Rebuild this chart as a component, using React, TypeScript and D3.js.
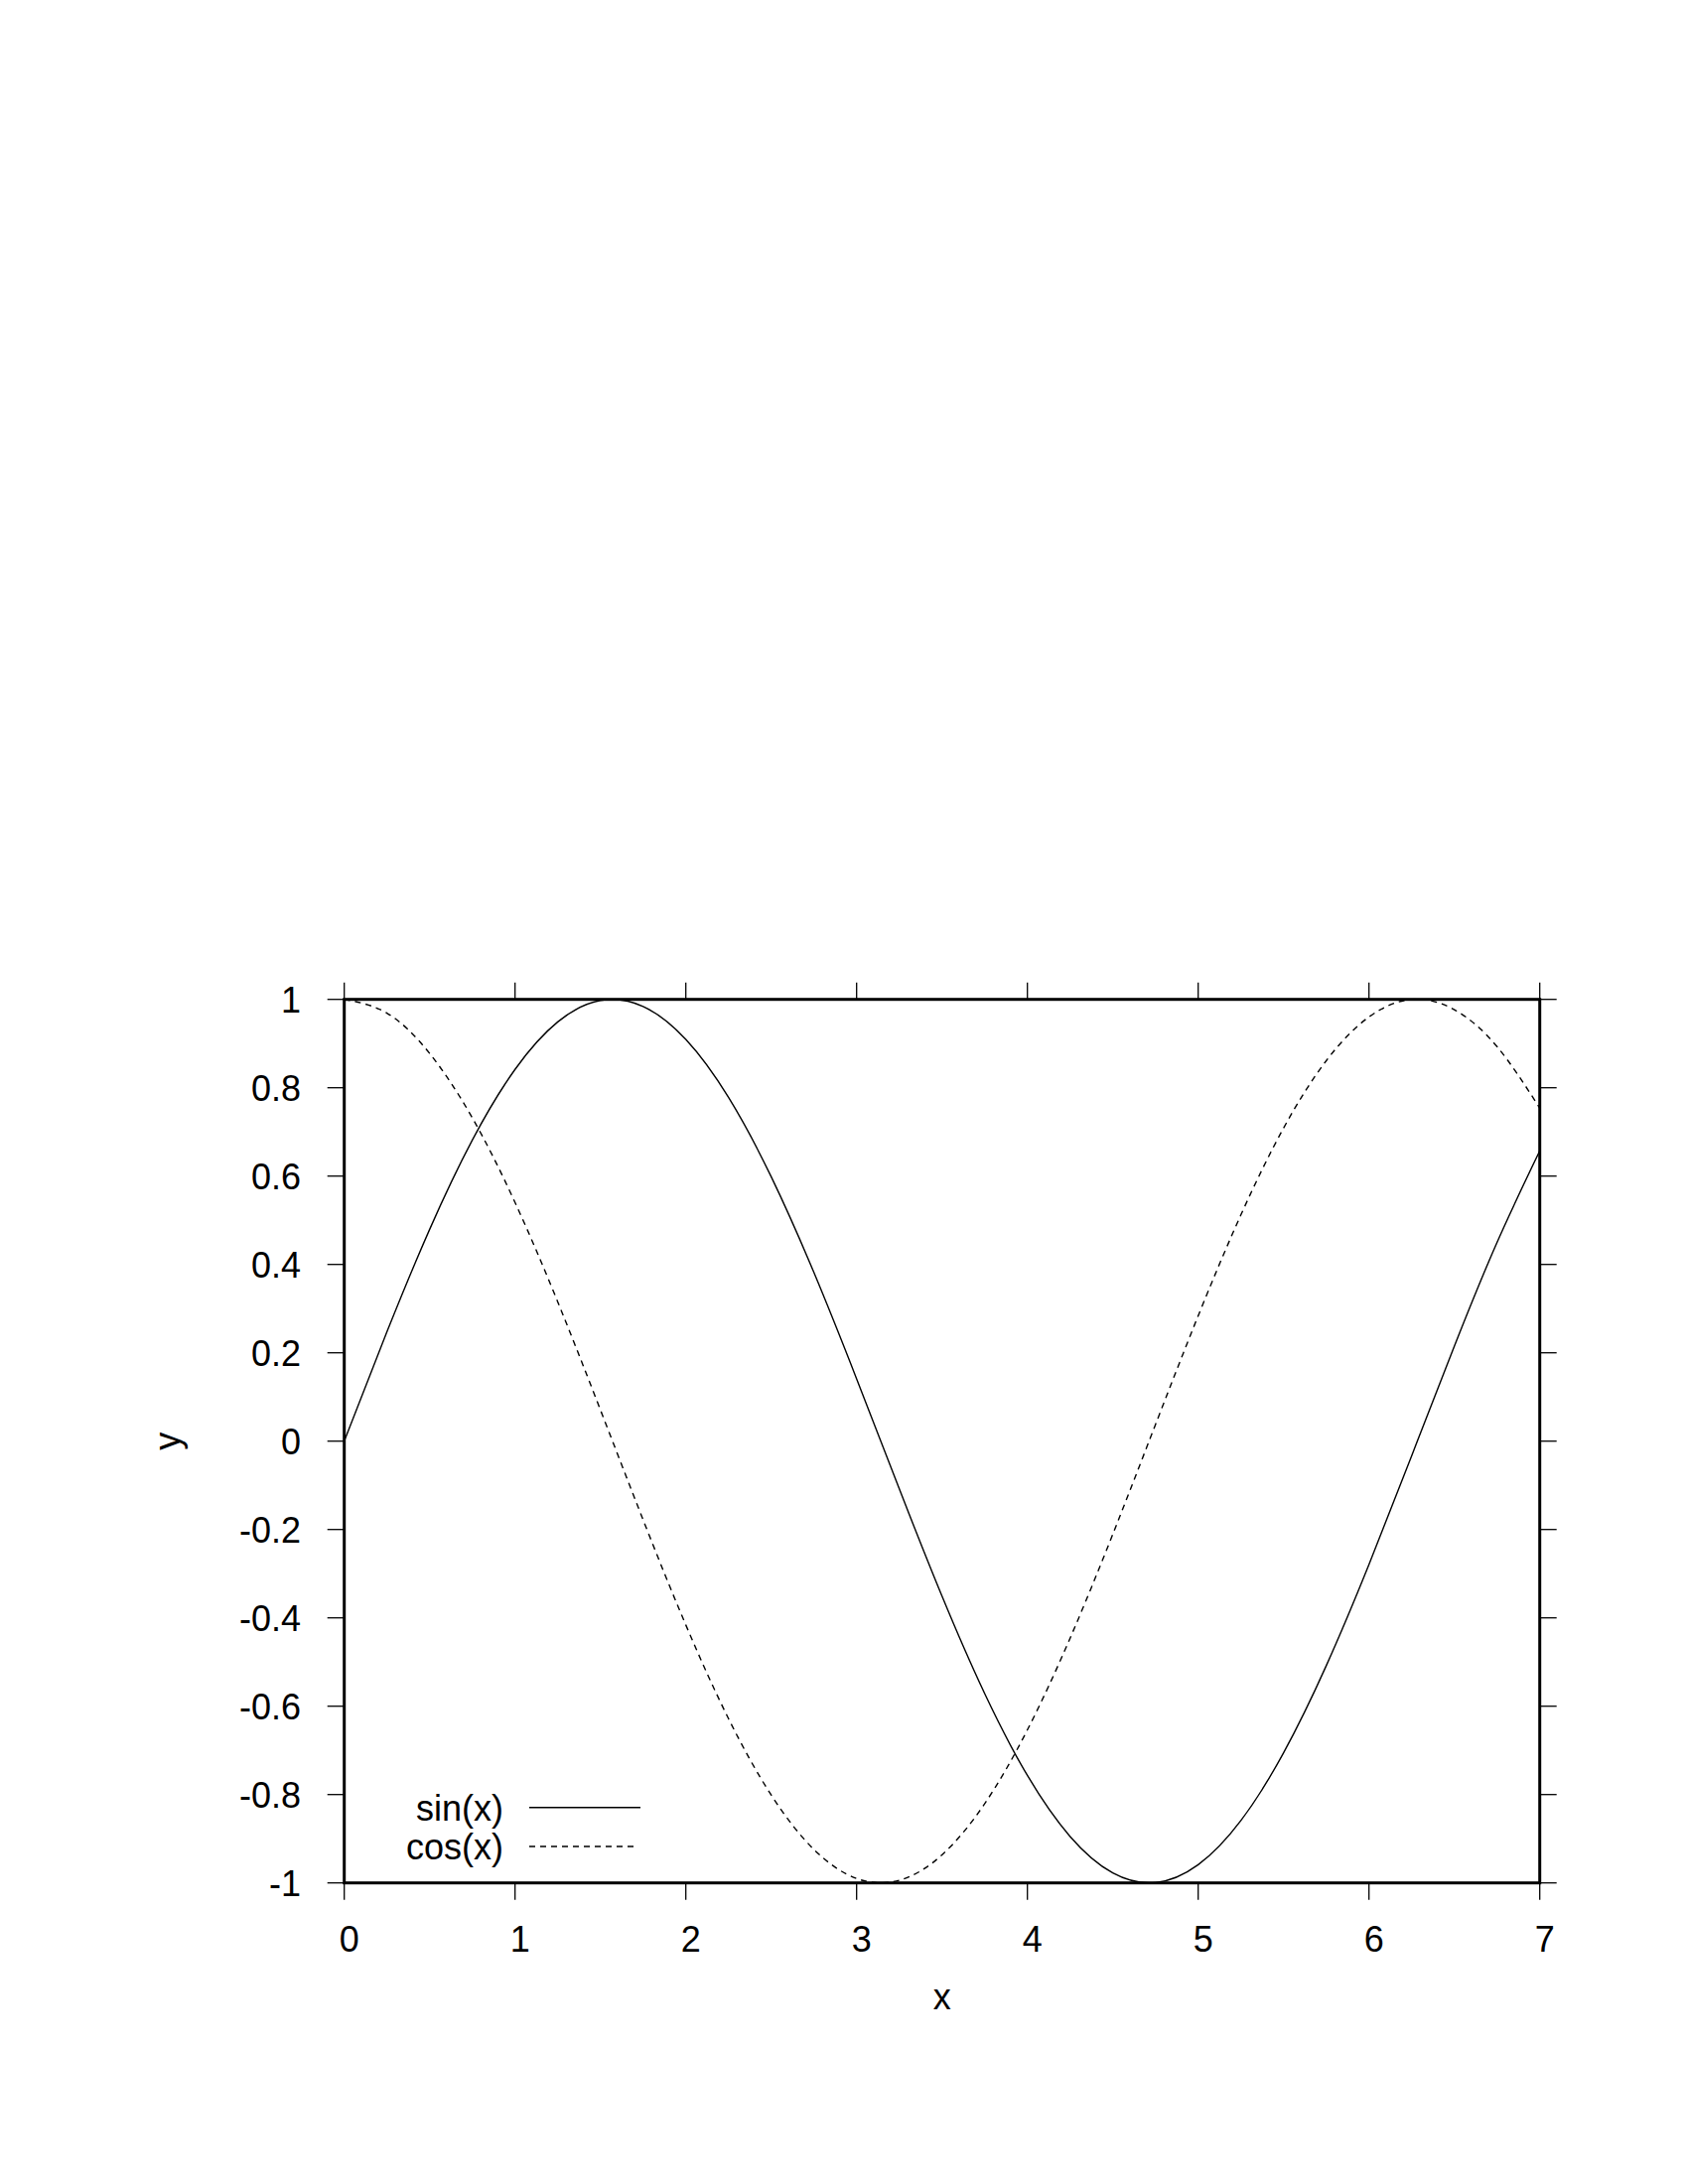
import React from "react";
import * as d3 from "d3";

const xs = [0, 0.25, 0.5, 0.75, 1, 1.25, 1.5, 1.75, 2, 2.25, 2.5, 2.75, 3, 3.25, 3.5, 3.75, 4, 4.25, 4.5, 4.75, 5, 5.25, 5.5, 5.75, 6, 6.25, 6.5, 6.75, 7];
const sinValues = [0, 0.2474, 0.4794, 0.6816, 0.8415, 0.949, 0.9975, 0.984, 0.9093, 0.7781, 0.5985, 0.3817, 0.1411, -0.1082, -0.3508, -0.5716, -0.7568, -0.895, -0.9775, -0.9993, -0.9589, -0.8589, -0.7055, -0.5083, -0.2794, -0.0332, 0.2151, 0.45, 0.657];
const cosValues = [1, 0.9689, 0.8776, 0.7317, 0.5403, 0.3153, 0.0707, -0.1782, -0.4161, -0.6282, -0.8011, -0.9243, -0.99, -0.9941, -0.9365, -0.8206, -0.6536, -0.4461, -0.2108, 0.0376, 0.2837, 0.5121, 0.7087, 0.8612, 0.9602, 0.9999, 0.9766, 0.893, 0.7539];
const xTicks = [0, 1, 2, 3, 4, 5, 6, 7];
const yTicks = [-1, -0.8, -0.6, -0.4, -0.2, 0, 0.2, 0.4, 0.6, 0.8, 1];
const seriesNames = ["sin(x)", "cos(x)"];

const L = 346.7, R = 1550.7, T = 1006.7, B = 1896.7;
const FONT = "'Liberation Sans', Arial, sans-serif";
const FS = 36;

export default function App() {
  const x = d3.scaleLinear().domain([0, 7]).range([L, R]);
  const y = d3.scaleLinear().domain([-1, 1]).range([B, T]);
  const mk = (vals: number[]) =>
    d3
      .line<number>()
      .x((_, i) => x(xs[i]))
      .y((v) => y(v))
      .curve(d3.curveNatural)(vals) || "";
  const tickLen = 17;
  return (
    <svg
      width={1700}
      height={2200}
      style={{ position: "absolute", left: 0, top: 0, display: "block", background: "#fff" }}
      fontFamily={FONT}
    >
      <defs>
        <clipPath id="plotclip">
          <rect x={L} y={T - 1} width={R - L} height={B - T + 2} />
        </clipPath>
      </defs>
      <rect x={0} y={0} width={1700} height={2200} fill="#fff" />
      {yTicks.map((t) => (
        <g key={"y" + t}>
          <line x1={L - tickLen} x2={L} y1={y(t)} y2={y(t)} stroke="#000" strokeWidth={1.3} />
          <line x1={R} x2={R + tickLen} y1={y(t)} y2={y(t)} stroke="#000" strokeWidth={1.3} />
          <text x={303} y={y(t)} dy="0.36em" textAnchor="end" fontSize={FS} fill="#000">
            {String(t)}
          </text>
        </g>
      ))}
      {xTicks.map((t) => (
        <g key={"x" + t}>
          <line x1={x(t)} x2={x(t)} y1={B} y2={B + tickLen} stroke="#000" strokeWidth={1.3} />
          <line x1={x(t)} x2={x(t)} y1={T - tickLen} y2={T} stroke="#000" strokeWidth={1.3} />
          <text x={x(t) + 5} y={1966} textAnchor="middle" fontSize={FS} fill="#000">
            {String(t)}
          </text>
        </g>
      ))}
      <g clipPath="url(#plotclip)">
        <path d={mk(sinValues)} fill="none" stroke="#000" strokeWidth={1.4} />
        <path d={mk(cosValues)} fill="none" stroke="#000" strokeWidth={1.4} strokeDasharray="6 5" />
      </g>
      <rect x={L} y={T} width={R - L} height={B - T} fill="none" stroke="#000" strokeWidth={3} />
      <text x={(L + R) / 2} y={2024} textAnchor="middle" fontSize={FS} fill="#000">
        x
      </text>
      <text
        transform={`translate(181,${(T + B) / 2}) rotate(-90)`}
        textAnchor="middle"
        fontSize={FS}
        fill="#000"
      >
        y
      </text>
      <text x={507} y={1834} textAnchor="end" fontSize={FS} fill="#000">
        {seriesNames[0]}
      </text>
      <line x1={533} x2={645} y1={1820.7} y2={1820.7} stroke="#000" strokeWidth={1.4} />
      <text x={507} y={1873} textAnchor="end" fontSize={FS} fill="#000">
        {seriesNames[1]}
      </text>
      <line x1={533} x2={640} y1={1860} y2={1860} stroke="#000" strokeWidth={1.4} strokeDasharray="6 5" />
    </svg>
  );
}
